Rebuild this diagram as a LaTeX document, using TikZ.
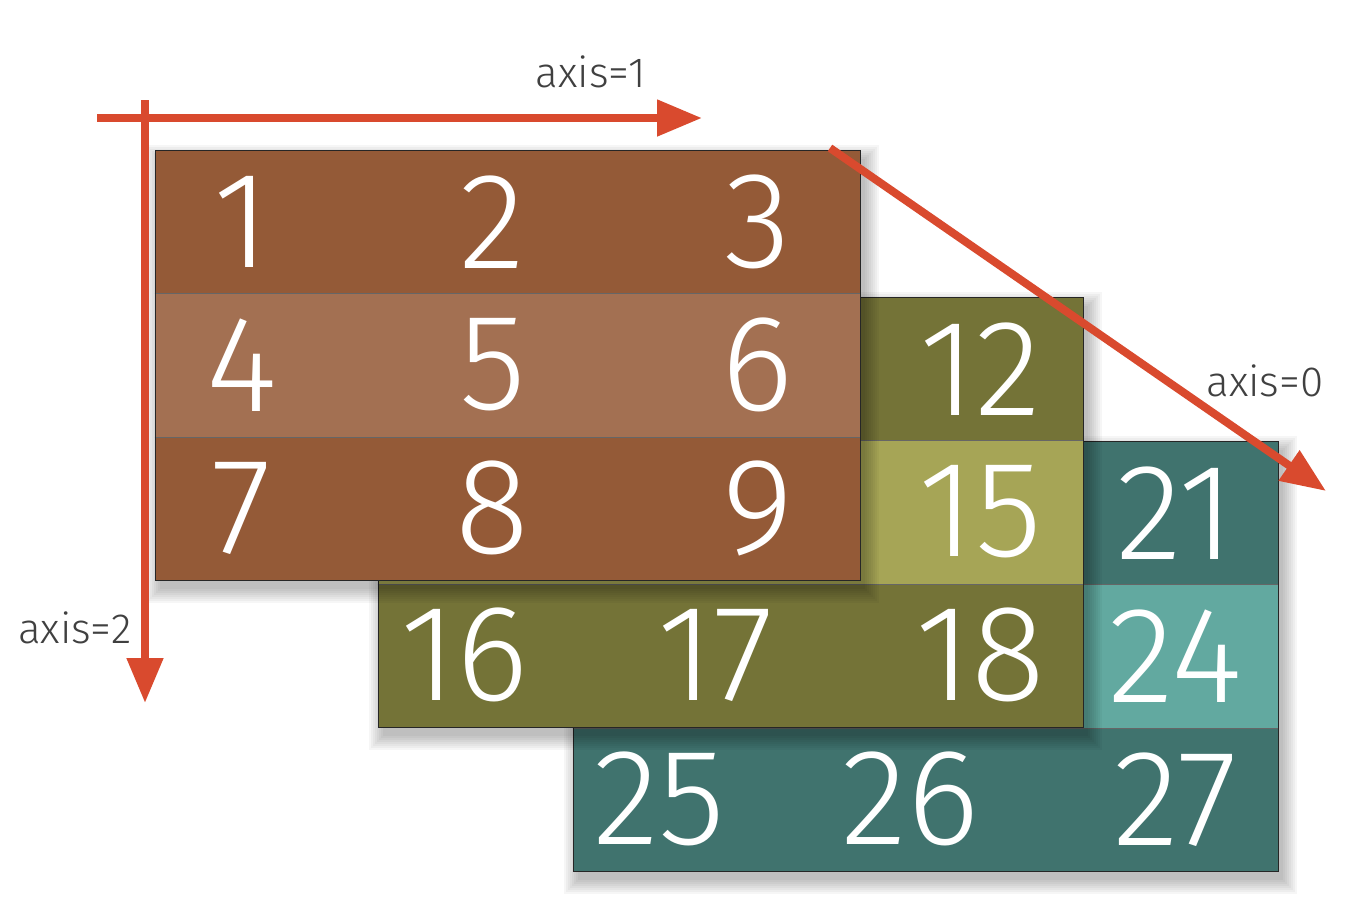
\documentclass[tikz,border=0pt]{standalone}
\usepackage{fontspec}
\newfontfamily\thinfont{Fira Sans}[UprightFont={* Light}]
\usepackage{tikz}
\usetikzlibrary{arrows.meta, positioning}
\definecolor{axisred}{RGB}{217,74,46}
\definecolor{labelgray}{RGB}{64,64,64}
\definecolor{brownA}{RGB}{148,90,55}
\definecolor{brownB}{RGB}{163,112,82}
\definecolor{oliveA}{RGB}{116,115,55}
\definecolor{oliveB}{RGB}{166,165,86}
\definecolor{tealA}{RGB}{64,115,110}
\definecolor{tealB}{RGB}{98,169,160}
\tikzset{
  cell/.style={rectangle, inner sep=0pt, minimum width=4.7cm, minimum height=2.867cm},
  numtext/.style={font=\thinfont\fontsize{78}{78}\selectfont, text=white, inner sep=0pt},
  frame/.style={draw=black!85, line width=0.5pt},
  rowline/.style={draw=black!60, line width=0.6pt},
  axisarrow/.style={-{Triangle[length=0.9cm, width=0.7cm]}, line width=0.16cm, color=axisred},
  axislabel/.style={font=\thinfont\fontsize{24}{24}\selectfont, text=labelgray, inner sep=0pt}
}
% one 3x3 slice: #1,#2 top left, #3 first number, #4 dark fill, #5 middle row fill
\newcommand{\drawlayer}[5]{%
  \foreach \s in {0,2,...,14}
    \fill[black, opacity=0.035] ({#1+5-\s},{#2+9-\s}) rectangle ({#1+710+\s},{#2+439+\s});
  \foreach \r in {0,1,2}{
    \ifnum\r=1 \def\cellcol{#5}\else\def\cellcol{#4}\fi
    \foreach \c/\dx in {0/-0.62cm, 1/-0.3cm, 2/0.3cm}{
      \pgfmathtruncatemacro{\cellnum}{#3+3*\r+\c}
      \node[cell, fill=\cellcol] (c\cellnum) at ({#1+117.5+235*\c},{#2+71.67+143.33*\r}) {};
      \node[numtext, xshift=\dx] (n\cellnum) at (c\cellnum) {\cellnum};
    }
  }
  \foreach \r in {0,1}{
    \pgfmathtruncatemacro{\ra}{#3+3*\r}
    \pgfmathtruncatemacro{\rb}{\ra+2}
    \draw[rowline] (c\ra.south west) -- (c\rb.south east);
  }
  \draw[frame] (#1,#2) rectangle ++(705,430);
}

\begin{document}
\begin{tikzpicture}[x=0.2mm, y=-0.2mm]
    \useasboundingbox (0,0) rectangle (1357,923);

    % slices, back to front
    \drawlayer{573}{441}{19}{tealA}{tealB}
    \drawlayer{378}{297}{10}{oliveA}{oliveB}
    \drawlayer{155}{150}{1}{brownA}{brownB}

    % axes
    \coordinate (a1start) at (97,118);
    \coordinate (a1end) at (702,118);
    \coordinate (a2start) at (145,100);
    \coordinate (a2end) at (145,703);
    \coordinate (a0start) at (830,148);
    \coordinate (a0end) at (1326,491);

    \draw[axisarrow] (a1start) -- (a1end);
    \draw[axisarrow] (a2start) -- (a2end);
    \draw[axisarrow] (a0start) -- (a0end);

    \node[axislabel] (lab1) at (591,72) {axis=1};
    \node[axislabel] (lab0) at (1265,381) {axis=0};
    \node[axislabel] (lab2) at (75,628) {axis=2};
\end{tikzpicture}
\end{document}
